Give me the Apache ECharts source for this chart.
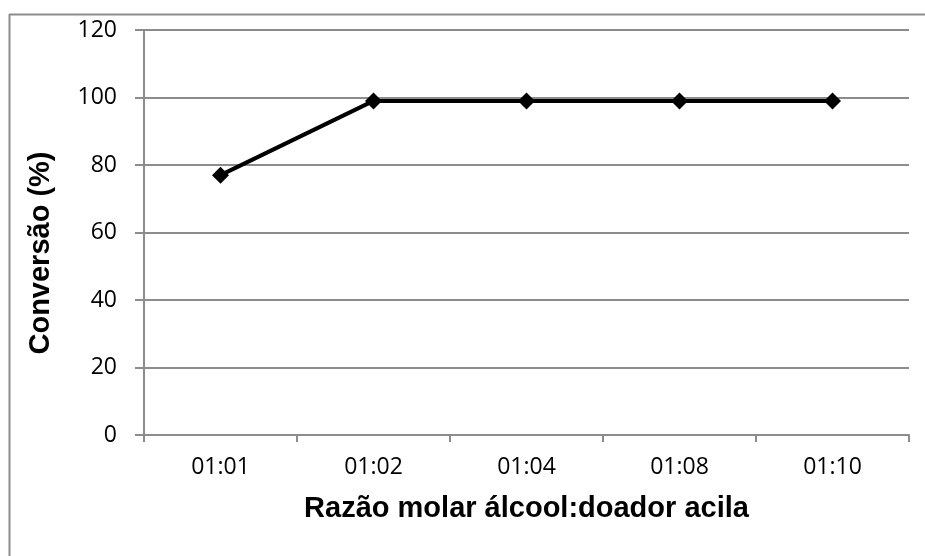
<!DOCTYPE html>
<html>
<head>
<meta charset="utf-8">
<script src="https://cdn.jsdelivr.net/npm/echarts@6/dist/echarts.min.js"></script>
<style>
  html, body { margin: 0; padding: 0; background: #fff; }
  #chart { width: 925px; height: 556px; }
</style>
</head>
<body>
<div id="chart"></div>
<script>
// Molar ratio alcohol : acyl donor
const ratios = ['01:01', '01:02', '01:04', '01:08', '01:10'];
// Conversion (%)
const conversion = [77, 99, 99, 99, 99];
// Y axis range
const yMin = 0;
const yMax = 120;
const yStep = 20;
const xTitle = 'Razão molar álcool:doador acila';
const yTitle = 'Conversão (%)';

const gridColor = '#8c8c8c';
const labelFont = '"Open Sans", sans-serif';
const titleFont = '"Liberation Sans", Arial, sans-serif';

const chart = echarts.init(document.getElementById('chart'), null, { renderer: 'canvas' });
chart.setOption({
  animation: false,
  backgroundColor: '#ffffff',
  graphic: [
    // chart-area frame: top and left edges
    {
      type: 'line',
      shape: { x1: 9, y1: 14.5, x2: 925, y2: 14.5 },
      style: { stroke: gridColor, lineWidth: 2 },
      silent: true
    },
    {
      type: 'line',
      shape: { x1: 9.5, y1: 14, x2: 9.5, y2: 556 },
      style: { stroke: gridColor, lineWidth: 2 },
      silent: true
    },
    // vertical axis title
    {
      type: 'text',
      x: 41,
      y: 253,
      rotation: Math.PI / 2,
      style: {
        text: yTitle,
        fill: '#000',
        font: 'bold 29px "Liberation Sans", Arial, sans-serif',
        textAlign: 'center',
        textVerticalAlign: 'middle'
      },
      silent: true
    }
  ],
  grid: { left: 144, top: 30, right: 16, bottom: 121, containLabel: false },
  xAxis: {
    type: 'category',
    data: ratios,
    boundaryGap: true,
    name: xTitle,
    nameLocation: 'middle',
    nameGap: 59,
    nameTextStyle: { fontFamily: titleFont, fontWeight: 'bold', fontSize: 29, color: '#000' },
    axisLine: { lineStyle: { color: gridColor, width: 2 } },
    axisTick: { show: true, length: 7, lineStyle: { color: gridColor, width: 2 } },
    axisLabel: { fontFamily: labelFont, fontSize: 23, color: '#000', margin: 21 },
    splitLine: { show: false }
  },
  yAxis: {
    type: 'value',
    min: yMin,
    max: yMax,
    interval: yStep,
    axisLine: { show: true, lineStyle: { color: gridColor, width: 2 } },
    axisTick: { show: true, length: 9, lineStyle: { color: gridColor, width: 2 } },
    axisLabel: { fontFamily: labelFont, fontSize: 23, color: '#000', margin: 27 },
    splitLine: { show: true, lineStyle: { color: gridColor, width: 2 } }
  },
  series: [{
    type: 'line',
    data: conversion,
    symbol: 'diamond',
    symbolSize: 17,
    showAllSymbol: true,
    lineStyle: { color: '#000', width: 4 },
    itemStyle: { color: '#000' },
    z: 5
  }]
});
</script>
</body>
</html>
